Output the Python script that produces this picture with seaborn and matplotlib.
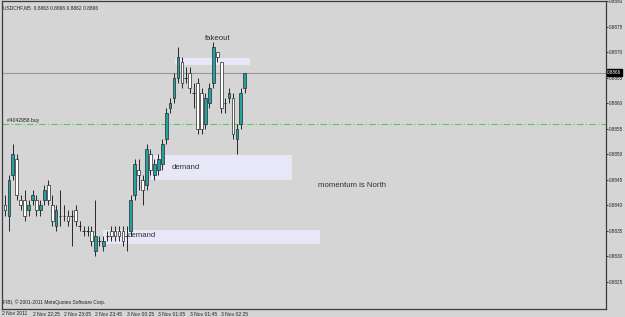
import matplotlib
matplotlib.use("Agg")
import matplotlib.pyplot as plt
import seaborn as sns
import pandas as pd
import numpy as np

# ---------------- data ----------------
header = "USDCHF,M5  0.8863 0.8866 0.8862 0.8866"
copyright_text = "FIBI, \u00a9 2001-2011 MetaQuotes Software Corp."

opens = [0.8840, 0.8838, 0.8846, 0.8849, 0.8841, 0.8841, 0.8839, 0.8841, 0.8841, 0.8839,
         0.8841, 0.8844, 0.8840, 0.8836, 0.8838, 0.8838, 0.8838, 0.8838, 0.8839, 0.8836,
         0.8835, 0.8835, 0.8835, 0.8831, 0.8833, 0.8832, 0.8834, 0.8835, 0.8835, 0.8835,
         0.8835, 0.8834, 0.8835, 0.8842, 0.8847, 0.8845, 0.8844, 0.8850, 0.8846, 0.8847,
         0.8848, 0.8853, 0.8859, 0.8861, 0.8865, 0.8868, 0.8865, 0.8866, 0.8862, 0.8864,
         0.8862, 0.8856, 0.8860, 0.8864, 0.8870, 0.8868, 0.8860, 0.8861, 0.8861, 0.8853,
         0.8856, 0.8863]
highs = [0.8842, 0.8846, 0.8852, 0.8850, 0.8842, 0.8843, 0.8841, 0.8843, 0.8842, 0.8841,
         0.8844, 0.8845, 0.8842, 0.8840, 0.8843, 0.8840, 0.8839, 0.8839, 0.8840, 0.8837,
         0.8836, 0.8836, 0.8836, 0.8841, 0.8834, 0.8834, 0.8835, 0.8836, 0.8836, 0.8836,
         0.8836, 0.8836, 0.8842, 0.8849, 0.8849, 0.8846, 0.8852, 0.8851, 0.8849, 0.8850,
         0.8853, 0.8859, 0.8861, 0.8866, 0.8871, 0.8869, 0.8867, 0.8867, 0.8864, 0.8865,
         0.8863, 0.8862, 0.8864, 0.8872, 0.8870, 0.8868, 0.8861, 0.8863, 0.8862, 0.8856,
         0.8863, 0.8866]
lows = [0.8838, 0.8835, 0.8845, 0.8841, 0.8839, 0.8837, 0.8838, 0.8840, 0.8838, 0.8838,
        0.8840, 0.8840, 0.8836, 0.8835, 0.8836, 0.8837, 0.8836, 0.8832, 0.8836, 0.8835,
        0.8834, 0.8834, 0.8832, 0.8830, 0.8832, 0.8831, 0.8833, 0.8833, 0.8833, 0.8833,
        0.8832, 0.8831, 0.8834, 0.8841, 0.8843, 0.8840, 0.8843, 0.8846, 0.8845, 0.8846,
        0.8847, 0.8852, 0.8858, 0.8860, 0.8864, 0.8863, 0.8864, 0.8862, 0.8859, 0.8854,
        0.8854, 0.8855, 0.8859, 0.8863, 0.8868, 0.8858, 0.8858, 0.8860, 0.8853, 0.8850,
        0.8855, 0.8862]
closes = [0.8839, 0.8845, 0.8850, 0.8842, 0.8840, 0.8838, 0.8840, 0.8842, 0.8839, 0.8840,
          0.8843, 0.8841, 0.8837, 0.8839, 0.8838, 0.8838, 0.8837, 0.8838, 0.8837, 0.8836,
          0.8835, 0.8835, 0.8833, 0.8834, 0.8833, 0.8833, 0.8834, 0.8834, 0.8834, 0.8834,
          0.8833, 0.8834, 0.8841, 0.8848, 0.8846, 0.8843, 0.8851, 0.8847, 0.8848, 0.8849,
          0.8852, 0.8858, 0.8860, 0.8865, 0.8869, 0.8864, 0.8865, 0.8863, 0.8862, 0.8855,
          0.8855, 0.8861, 0.8863, 0.8871, 0.8869, 0.8859, 0.8860, 0.8862, 0.8854, 0.8855,
          0.8862, 0.8866]

time_labels = ["2 Nov 22:25", "2 Nov 23:05", "2 Nov 23:45", "3 Nov 00:25",
               "3 Nov 01:05", "3 Nov 01:45", "3 Nov 02:25"]
time_label_bars = [7, 15, 23, 31, 39, 47, 55]
first_date_label = "2 Nov 2011"

price_ticks = [0.8825, 0.8830, 0.8835, 0.8840, 0.8845, 0.8850,
               0.8855, 0.8860, 0.8865, 0.8870, 0.8875, 0.8880]
bid_price = 0.8866
order_price = 0.8856
order_label = "#4042958 buy"

zone_start = [43.3, 37.2, 24.9]
zone_end = [62.3, 73.0, 80.2]
zone_low = [0.88675, 0.88449, 0.88325]
zone_high = [0.88688, 0.88498, 0.88351]

notes = ["fakeout", "demand", "demand", "momentum is North"]
note_bar = [54.1, 42.5, 31.3, 79.6]
note_price = [0.88727, 0.88475, 0.88340, 0.88438]
note_align = ["center", "left", "left", "left"]

# ---------------- build ----------------
df = pd.DataFrame({"bar": np.arange(len(opens)), "open": opens, "high": highs,
                   "low": lows, "close": closes})
df["bull"] = df["close"] > df["open"]
df["doji"] = df["close"] == df["open"]

BG = "#D5D5D5"
sns.set_style("white", {"axes.facecolor": BG, "figure.facecolor": BG,
                        "axes.edgecolor": "#3C3C3C"})
plt.rcParams["font.family"] = ["Liberation Sans", "DejaVu Sans"]

fig = plt.figure(figsize=(6.25, 3.17), dpi=100)
fig.patch.set_facecolor(BG)
ax = fig.add_axes([2 / 625, 1 - 309 / 317, 604 / 625, 308 / 317])
ax.set_facecolor(BG)

# zones
for xs, xe, lo, hi in zip(zone_start, zone_end, zone_low, zone_high):
    ax.fill_between([xs, xe], lo, hi, color="#E7E7F8", lw=0, zorder=1)

# lines
ax.axhline(bid_price, color="#9A9A9A", lw=0.8, zorder=2)
ax.axhline(order_price, color="#55CC55", lw=0.8, ls=(0, (6, 2, 1, 2)), zorder=2)
ax.text(0.5, order_price + 0.00002, order_label, fontsize=3.6, color="#202020",
        ha="left", va="bottom", zorder=5)

# wicks
sns.despine(ax=ax, top=False, right=False, left=False, bottom=False)
ax.vlines(df["bar"], df["low"], df["high"], color="#282828", lw=0.7, zorder=3)

body_w = 0.7
up = df[df["bull"]]
dn = df[~df["bull"] & ~df["doji"]]
dj = df[df["doji"]]
ax.bar(up["bar"], up["close"] - up["open"], bottom=up["open"], width=body_w,
       color="#21A3A3", edgecolor="#282828", lw=0.5, zorder=4)
ax.bar(dn["bar"], dn["open"] - dn["close"], bottom=dn["close"], width=body_w,
       color="white", edgecolor="#282828", lw=0.5, zorder=4)
ax.hlines(dj["open"], dj["bar"] - body_w / 2, dj["bar"] + body_w / 2,
          color="#282828", lw=0.7, zorder=4)

# notes
for t, b, p, a in zip(notes, note_bar, note_price, note_align):
    ax.text(b, p, t, fontsize=5.6, color="#303030", ha=a, va="center", zorder=6)

# header and copyright
ax.text(0.002, 0.985, header, transform=ax.transAxes, fontsize=3.5,
        color="#202020", ha="left", va="top")
ax.text(0.002, 0.012, copyright_text, transform=ax.transAxes, fontsize=3.5,
        color="#202020", ha="left", va="bottom")

# axes limits / ticks
ax.set_xlim(-0.763, 152.9)
ax.set_ylim(0.88197, 0.88800)
for s in ax.spines.values():
    s.set_color("#3C3C3C")
    s.set_linewidth(0.9)

ax.yaxis.tick_right()
ax.set_yticks(price_ticks)
ax.set_yticklabels([f"{v:.4f}" for v in price_ticks])
ax.tick_params(axis="y", direction="out", length=1.5, width=0.6, pad=0.8,
               labelsize=3.3, colors="#202020", right=True, left=False)
ax.set_xticks(time_label_bars)
ax.set_xticklabels(time_labels, ha="left")
ax.tick_params(axis="x", direction="out", length=2, width=0.6, pad=0.5,
               labelsize=3.6, colors="#202020")
ax.text(0.0, -0.008, first_date_label, transform=ax.transAxes, fontsize=3.6,
        color="#202020", ha="left", va="top")

# bid label on price scale
ax.text(1.002, bid_price, f"{bid_price:.4f}", transform=ax.get_yaxis_transform(),
        fontsize=3.3, color="white", ha="left", va="center",
        bbox=dict(boxstyle="square,pad=0.15", fc="black", ec="black"), zorder=10,
        clip_on=False)

fig.savefig("out.png", dpi=100, facecolor=BG)
